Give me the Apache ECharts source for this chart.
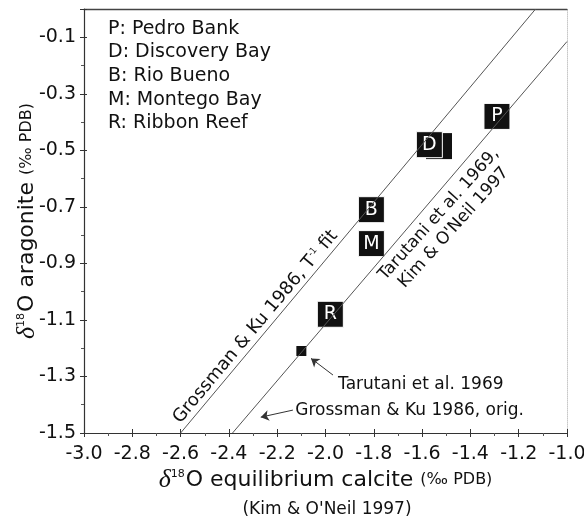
<!DOCTYPE html>
<html>
<head>
<meta charset="utf-8">
<script src="https://cdn.jsdelivr.net/npm/echarts@6/dist/echarts.min.js"></script>
<style>
  html, body { margin: 0; padding: 0; background: #fff; }
  #chart { width: 584px; height: 518px; }
</style>
</head>
<body>
<div id="chart"></div>
<script>
// Coral sites: code letter, site name, equilibrium calcite d18O, measured aragonite d18O
const siteCodes = ['P', 'D', 'B', 'M', 'R'];
const siteNames = ['Pedro Bank', 'Discovery Bay', 'Rio Bueno', 'Montego Bay', 'Ribbon Reef'];
const siteCalcite = [-1.29, -1.57, -1.81, -1.81, -1.98];
const siteAragonite = [-0.38, -0.48, -0.71, -0.83, -1.08];

// Second Discovery Bay sample, sitting just behind the "D" marker
const discoveryBay2 = [-1.53, -0.485];

// Tarutani et al. 1969 reference value
const tarutaniPoint = [-2.10, -1.21];

// Fractionation relationships, as [calcite, aragonite] end points
const grossmanFitLine = [[-2.60, -1.50], [-1.13, 0.00]];
const tarutaniKimLine = [[-2.385, -1.50], [-1.00, -0.115]];

// Axis ranges and tick values
const xRange = [-3.0, -1.0];
const yRange = [-1.5, 0.0];
const tickStep = 0.2;
const xTickLabels = ['-3.0', '-2.8', '-2.6', '-2.4', '-2.2', '-2.0', '-1.8', '-1.6', '-1.4', '-1.2', '-1.0'];
const yTickLabels = ['-1.5', '-1.3', '-1.1', '-0.9', '-0.7', '-0.5', '-0.3', '-0.1'];

const FONT = 'DejaVu Sans';
const INK = '#111';

const chart = echarts.init(document.getElementById('chart'), null, { renderer: 'canvas' });

const fmtX = v => {
  const s = v.toFixed(1);
  return xTickLabels.indexOf(s) >= 0 ? s : '';
};
const fmtY = v => {
  const s = v.toFixed(1);
  return yTickLabels.indexOf(s) >= 0 ? s : '';
};

const titleRich = {
  d: { fontFamily: 'Liberation Serif', fontStyle: 'italic', fontSize: 26, color: INK },
  s: { fontFamily: FONT, fontSize: 11, color: INK, verticalAlign: 'top', padding: [2, 1, 0, 0] },
  b: { fontFamily: FONT, fontSize: 22, color: INK },
  p: { fontFamily: FONT, fontSize: 16, color: INK }
};

const axisBase = {
  type: 'value',
  splitLine: { show: false },
  minorSplitLine: { show: false }
};

const option = {
  animation: false,
  backgroundColor: '#fff',
  grid: { left: 84, right: 17, top: 9, bottom: 85, containLabel: false, outerBoundsMode: 'none' },
  xAxis: [
    Object.assign({}, axisBase, {
      position: 'bottom',
      min: xRange[0], max: xRange[1], interval: tickStep,
      axisLine: { show: true, onZero: false, lineStyle: { color: '#333', width: 1.2 } },
      axisTick: { show: true, length: 4, lineStyle: { color: '#333', width: 1 } },
      minorTick: { show: true, splitNumber: 2, length: 3, lineStyle: { color: '#555' } },
      axisLabel: { formatter: fmtX, fontFamily: FONT, fontSize: 19, color: INK, margin: 12 },
      name: '{d|δ}{s|18}{b|O equilibrium calcite }{p|(‰ PDB)}',
      nameLocation: 'middle',
      nameGap: 34,
      nameMoveOverlap: false,
      nameTextStyle: { rich: titleRich }
    }),
    Object.assign({}, axisBase, {
      position: 'bottom',
      min: xRange[0], max: xRange[1], interval: tickStep,
      axisLine: { show: false, onZero: false },
      axisTick: { show: true, inside: true, length: 4, lineStyle: { color: '#333', width: 1 } },
      axisLabel: { show: false }
    }),
    Object.assign({}, axisBase, {
      position: 'top',
      min: xRange[0], max: xRange[1],
      axisLine: { show: true, onZero: false, lineStyle: { color: '#444', width: 1.3 } },
      axisTick: { show: false },
      axisLabel: { show: false }
    })
  ],
  yAxis: [
    Object.assign({}, axisBase, {
      position: 'left',
      min: yRange[0], max: yRange[1], interval: tickStep,
      axisLine: { show: true, onZero: false, lineStyle: { color: '#333', width: 1.2 } },
      axisTick: { show: true, length: 4, lineStyle: { color: '#333', width: 1 } },
      minorTick: { show: true, splitNumber: 2, length: 3, lineStyle: { color: '#555' } },
      axisLabel: { formatter: fmtY, fontFamily: FONT, fontSize: 19, color: INK, margin: 8 },
      name: '{d|δ}{s|18}{b|O aragonite }{p|(‰ PDB)}',
      nameLocation: 'middle',
      nameRotate: 90,
      nameGap: 44,
      nameMoveOverlap: false,
      nameTextStyle: { rich: titleRich }
    }),
    Object.assign({}, axisBase, {
      position: 'left',
      min: yRange[0], max: yRange[1], interval: tickStep,
      axisLine: { show: false, onZero: false },
      axisTick: { show: true, inside: true, length: 3, lineStyle: { color: '#333', width: 1 } },
      axisLabel: { show: false }
    }),
    Object.assign({}, axisBase, {
      position: 'right',
      min: yRange[0], max: yRange[1],
      axisLine: { show: true, onZero: false, lineStyle: { color: '#c8c8c8', width: 1, type: 'dotted' } },
      axisTick: { show: false },
      axisLabel: { show: false }
    })
  ],
  graphic: [
    {
      type: 'text', x: 108, y: 17,
      style: {
        text: siteCodes.map((c, i) => c + ': ' + siteNames[i]).join('\n'),
        fontFamily: FONT, fontSize: 19, lineHeight: 23.6, fill: INK,
        align: 'left', verticalAlign: 'top'
      }
    },
    {
      type: 'text', x: 327, y: 510,
      style: {
        text: "(Kim & O'Neil 1997)",
        fontFamily: FONT, fontSize: 17, fill: INK,
        align: 'center', verticalAlign: 'middle'
      }
    }
  ],
  series: [
    {
      name: 'Grossman & Ku 1986, T-1 fit',
      type: 'line', data: grossmanFitLine, symbol: 'none',
      lineStyle: { color: '#555', width: 1 }, silent: true
    },
    {
      name: 'Tarutani et al. 1969, Kim & O\'Neil 1997',
      type: 'line', data: tarutaniKimLine, symbol: 'none',
      lineStyle: { color: '#555', width: 1 }, silent: true
    },
    {
      name: 'Discovery Bay (2)',
      type: 'scatter', symbol: 'rect', symbolSize: 26,
      data: [discoveryBay2],
      itemStyle: { color: '#111', opacity: 1 }
    },
    {
      name: 'Sites',
      type: 'scatter', symbol: 'rect', symbolSize: 26,
      data: siteCalcite.map((x, i) => ({ value: [x, siteAragonite[i]], name: siteCodes[i] })),
      itemStyle: { color: '#111', borderColor: '#fff', borderWidth: 1, opacity: 1 },
      label: {
        show: true, position: 'inside', formatter: '{b}',
        color: '#fff', fontFamily: FONT, fontSize: 19
      }
    },
    {
      name: 'Tarutani et al. 1969',
      type: 'scatter', symbol: 'rect', symbolSize: 10,
      data: [tarutaniPoint],
      itemStyle: { color: '#111', opacity: 1 }
    },
    {
      name: 'Annotation arrows',
      type: 'lines', coordinateSystem: 'cartesian2d', polyline: false,
      symbol: ['none', 'arrow'], symbolSize: 8,
      lineStyle: { color: '#333', width: 1, opacity: 1 },
      data: [
        { coords: [[-1.969, -1.295], [-2.060, -1.236]] },
        { coords: [[-2.135, -1.419], [-2.268, -1.444]] }
      ],
      silent: true
    },
    {
      name: 'Line labels',
      type: 'scatter', symbolSize: 0, silent: true,
      itemStyle: { opacity: 1 },
      data: [
        {
          value: [-2.29, -1.125],
          label: {
            show: true, position: 'inside', rotate: 50, opacity: 1,
            formatter: '{t|Grossman & Ku 1986, T}{s|-1}{t| fit}',
            rich: {
              t: { fontFamily: FONT, fontSize: 18, color: INK },
              s: { fontFamily: FONT, fontSize: 9, color: INK, verticalAlign: 'top' }
            }
          }
        },
        {
          value: [-1.50, -0.75],
          label: {
            show: true, position: 'inside', rotate: 48, opacity: 1,
            formatter: 'Tarutani et al. 1969,\nKim & O\'Neil 1997',
            fontFamily: FONT, fontSize: 17, lineHeight: 20, color: INK, align: 'center'
          }
        },
        {
          value: [-1.948, -1.327],
          label: {
            show: true, position: 'right', distance: 0, opacity: 1,
            formatter: 'Tarutani et al. 1969',
            fontFamily: FONT, fontSize: 17, color: INK
          }
        },
        {
          value: [-2.125, -1.421],
          label: {
            show: true, position: 'right', distance: 0, opacity: 1,
            formatter: 'Grossman & Ku 1986, orig.',
            fontFamily: FONT, fontSize: 17, color: INK
          }
        }
      ]
    }
  ]
};

chart.setOption(option);
</script>
</body>
</html>
